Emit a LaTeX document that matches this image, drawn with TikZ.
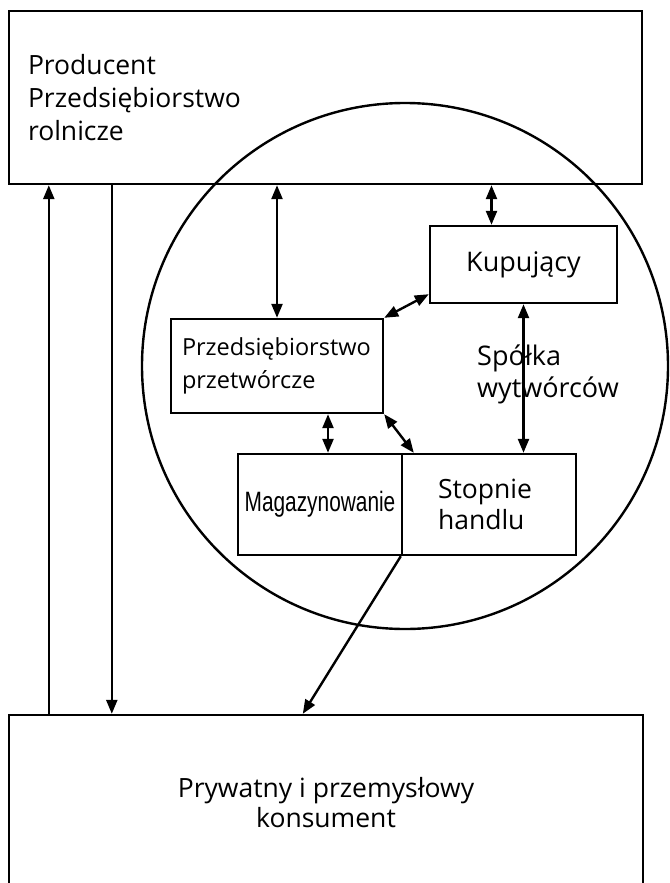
\documentclass[tikz,border=0pt]{standalone}
\usepackage{fontspec}
\usepackage{graphicx}
\setmainfont{Open Sans}
\newfontfamily\narrowfont{Liberation Sans}
\usetikzlibrary{arrows.meta}
\tikzset{
 box/.style={draw,line width=2.4pt,inner sep=0pt,font=\fontsize{26.5}{31}\selectfont},
 conn/.style={line width=2.4pt,>={Triangle[length=14pt,width=11pt]}},
}
\begin{document}
\begin{tikzpicture}[x=1pt,y=-1pt]
 \path[use as bounding box] (0,0) rectangle (669,883);
 \clip (0,0) rectangle (669,883);
 \node[draw,circle,line width=2.4pt,minimum size=526pt] (spolka) at (405,366) {};
 \node[box,minimum width=633pt,minimum height=173pt,text width=595pt,align=left,font=\fontsize{26.5}{33}\selectfont] (prod) at (325.5,97.5) {Producent\\Przedsiębiorstwo\\rolnicze};
 \node[box,minimum width=634pt,minimum height=176pt,align=center,font=\fontsize{26.5}{30}\selectfont] (kons) at (326,803) {Prywatny i przemysłowy\\konsument};
 \node[box,minimum width=187pt,minimum height=77pt,font=\fontsize{27}{31}\selectfont] (kup) at (523.5,264.5) {Kupujący};
 \node[box,minimum width=212pt,minimum height=94pt,text width=190pt,align=left,font=\fontsize{23.5}{33}\selectfont] (przet) at (277,366) {Przedsiębiorstwo\\przetwórcze};
 \node[box,minimum width=164pt,minimum height=101pt,font=\fontsize{28}{30}\narrowfont] (mag) at (320,504.5) {\scalebox{0.745}[1]{Magazynowanie}};
 \node[box,minimum width=174pt,minimum height=101pt,text width=102pt,align=left] (handel) at (489,504.5) {Stopnie\\handlu};
 \node[text width=150pt,align=left,anchor=west,inner sep=0pt,font=\fontsize{27}{32}\selectfont] (spolkatxt) at (477,374) {Spółka\\wytwórców};
 \draw[conn,->] ([xshift=41pt]kons.north west) -- ([xshift=41pt]prod.south west);
 \draw[conn,->] ([xshift=104pt]prod.south west) -- ([xshift=104pt]kons.north west);
 \draw[conn,<->] (prod.south -| przet.north) -- (przet.north);
 \draw[conn,<->] ([xshift=-32pt]kup.north |- prod.south) -- ([xshift=-32pt]kup.north);
 \draw[conn,<->] (przet.north east) -- ([yshift=10pt]kup.south west);
 \draw[conn,<->] (przet.south east) -- ([xshift=13pt]handel.north west);
 \draw[conn,<->] ([xshift=51pt]przet.south) -- ([xshift=51pt]przet.south |- mag.north);
 \draw[conn,<->] (kup.south) -- (kup.south |- handel.north);
 \draw[conn,->] (handel.south west) -- ([xshift=295pt]kons.north west);
\end{tikzpicture}
\end{document}
